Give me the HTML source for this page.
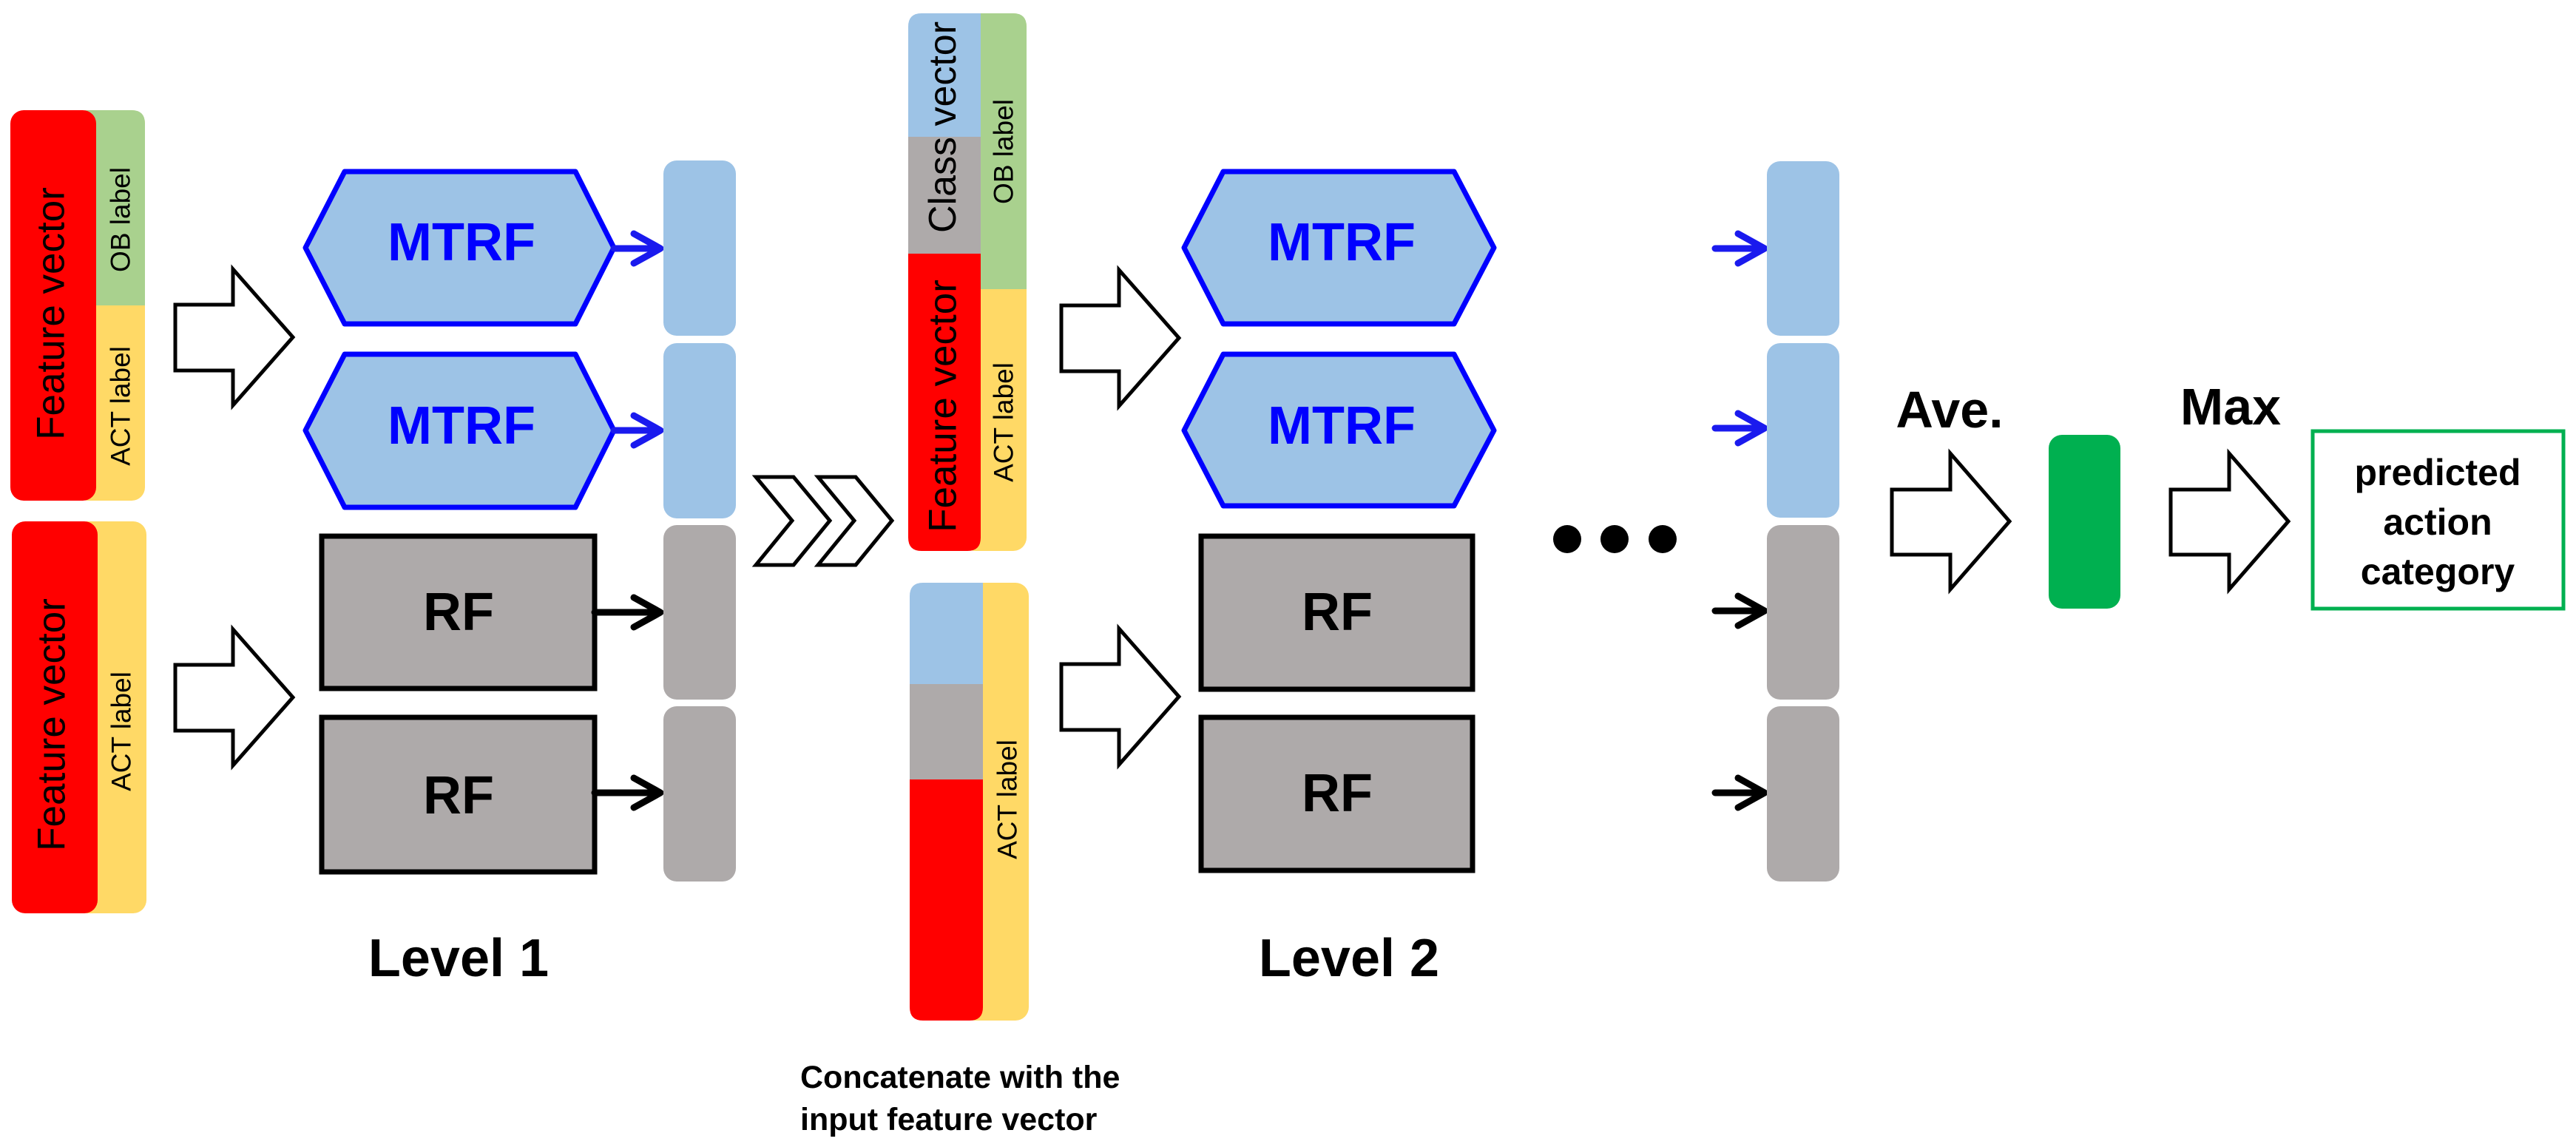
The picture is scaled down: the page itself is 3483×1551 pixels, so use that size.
<!DOCTYPE html>
<html><head><meta charset="utf-8"><style>
html,body{margin:0;padding:0;background:#fff;}
svg{display:block;}
text{font-family:"Liberation Sans",Arial,sans-serif;}
</style></head><body>
<svg width="3483" height="1551" viewBox="0 0 3483 1551" xmlns="http://www.w3.org/2000/svg">
<defs>
<g id="bigarrow"><polygon points="0,48 78,48 78,0 159,92 78,184 78,137 0,137" fill="#fff" stroke="#000" stroke-width="5"/></g>
</defs>

<!-- Input block 1 -->
<rect x="100" y="149" width="96" height="528" rx="18" fill="#ffd966"/>
<path d="M118,149 H178 Q196,149 196,167 V413 H100 V167 Q100,149 118,149 Z" fill="#a9d18e"/>
<rect x="14" y="149" width="116" height="528" rx="18" fill="#ff0000"/>
<text transform="translate(69,424) rotate(-90)" font-size="53" text-anchor="middle" dominant-baseline="central" fill="#000">Feature vector</text>
<text transform="translate(163,297) rotate(-90)" font-size="37" text-anchor="middle" dominant-baseline="central" fill="#000">OB label</text>
<text transform="translate(163,549) rotate(-90)" font-size="37" text-anchor="middle" dominant-baseline="central" fill="#000">ACT label</text>

<!-- Input block 2 -->
<rect x="100" y="705" width="98" height="530" rx="18" fill="#ffd966"/>
<rect x="16" y="705" width="116" height="530" rx="18" fill="#ff0000"/>
<text transform="translate(70,980) rotate(-90)" font-size="53" text-anchor="middle" dominant-baseline="central" fill="#000">Feature vector</text>
<text transform="translate(164,989) rotate(-90)" font-size="37" text-anchor="middle" dominant-baseline="central" fill="#000">ACT label</text>

<use href="#bigarrow" transform="translate(237,364)"/>
<use href="#bigarrow" transform="translate(237,851)"/>

<polygon points="466,232 778,232 830,335 778,438 466,438 413,335" fill="#9dc3e6" stroke="#0000ff" stroke-width="7" stroke-linejoin="round"/>
<polygon points="466,479 778,479 830,582 778,686 466,686 413,582" fill="#9dc3e6" stroke="#0000ff" stroke-width="7" stroke-linejoin="round"/>
<text x="624" y="352" font-size="72" font-weight="bold" fill="#0000ff" text-anchor="middle">MTRF</text>
<text x="624" y="600" font-size="72" font-weight="bold" fill="#0000ff" text-anchor="middle">MTRF</text>
<rect x="435" y="725" width="369" height="206" fill="#aeaaaa" stroke="#000" stroke-width="7"/>
<rect x="435" y="970" width="369" height="209" fill="#aeaaaa" stroke="#000" stroke-width="7"/>
<text x="620" y="852" font-size="72" font-weight="bold" fill="#000" text-anchor="middle">RF</text>
<text x="620" y="1100" font-size="72" font-weight="bold" fill="#000" text-anchor="middle">RF</text>

<g fill="none" stroke-width="9" stroke-linecap="round" stroke-linejoin="round">
<path d="M830,336 H893 M857,316 L893,336 L857,356" stroke="#1a1aee"/>
<path d="M830,582 H893 M857,562 L893,582 L857,602" stroke="#1a1aee"/>
<path d="M804,828 H893 M857,808 L893,828 L857,848" stroke="#000"/>
<path d="M804,1072 H893 M857,1052 L893,1072 L857,1092" stroke="#000"/>
</g>
<rect x="897" y="217" width="98" height="237" rx="18" fill="#9dc3e6"/>
<rect x="897" y="464" width="98" height="237" rx="18" fill="#9dc3e6"/>
<rect x="897" y="710" width="98" height="236" rx="18" fill="#aeaaaa"/>
<rect x="897" y="955" width="98" height="237" rx="18" fill="#aeaaaa"/>
<text x="620" y="1320" font-size="72" font-weight="bold" fill="#000" text-anchor="middle">Level 1</text>

<polygon points="1022,645 1073,645 1122,704 1073,764 1022,764 1071,704" fill="#fff" stroke="#000" stroke-width="5"/>
<polygon points="1106,645 1157,645 1206,704 1157,764 1106,764 1155,704" fill="#fff" stroke="#000" stroke-width="5"/>

<rect x="1300" y="18" width="88" height="727" rx="18" fill="#ffd966"/>
<path d="M1318,18 H1370 Q1388,18 1388,36 V391 H1300 V36 Q1300,18 1318,18 Z" fill="#a9d18e"/>
<path d="M1246,18 H1326 V185 H1228 V36 Q1228,18 1246,18 Z" fill="#9dc3e6"/>
<rect x="1228" y="185" width="98" height="158" fill="#aeaaaa"/>
<path d="M1228,343 H1326 V727 Q1326,745 1308,745 H1246 Q1228,745 1228,727 Z" fill="#ff0000"/>
<text transform="translate(1275,172) rotate(-90)" font-size="52" text-anchor="middle" dominant-baseline="central" fill="#000">Class vector</text>
<text transform="translate(1275,549) rotate(-90)" font-size="53" text-anchor="middle" dominant-baseline="central" fill="#000">Feature vector</text>
<text transform="translate(1357,205) rotate(-90)" font-size="37" text-anchor="middle" dominant-baseline="central" fill="#000">OB label</text>
<text transform="translate(1357,571) rotate(-90)" font-size="37" text-anchor="middle" dominant-baseline="central" fill="#000">ACT label</text>

<rect x="1300" y="788" width="91" height="592" rx="18" fill="#ffd966"/>
<path d="M1248,788 H1329 V925 H1230 V806 Q1230,788 1248,788 Z" fill="#9dc3e6"/>
<rect x="1230" y="925" width="99" height="129" fill="#aeaaaa"/>
<path d="M1230,1054 H1329 V1362 Q1329,1380 1311,1380 H1248 Q1230,1380 1230,1362 Z" fill="#ff0000"/>
<text transform="translate(1362,1081) rotate(-90)" font-size="37" text-anchor="middle" dominant-baseline="central" fill="#000">ACT label</text>

<text x="1082" y="1471" font-size="43" font-weight="bold" fill="#000">Concatenate with the</text>
<text x="1082" y="1528" font-size="43" font-weight="bold" fill="#000">input feature vector</text>

<use href="#bigarrow" transform="translate(1435,365)"/>
<use href="#bigarrow" transform="translate(1435,850)"/>

<polygon points="1654,232 1966,232 2020,335 1966,438 1654,438 1601,335" fill="#9dc3e6" stroke="#0000ff" stroke-width="7" stroke-linejoin="round"/>
<polygon points="1654,479 1966,479 2020,582 1966,684 1654,684 1601,582" fill="#9dc3e6" stroke="#0000ff" stroke-width="7" stroke-linejoin="round"/>
<text x="1814" y="352" font-size="72" font-weight="bold" fill="#0000ff" text-anchor="middle">MTRF</text>
<text x="1814" y="600" font-size="72" font-weight="bold" fill="#0000ff" text-anchor="middle">MTRF</text>
<rect x="1624" y="725" width="367" height="207" fill="#aeaaaa" stroke="#000" stroke-width="7"/>
<rect x="1624" y="970" width="367" height="207" fill="#aeaaaa" stroke="#000" stroke-width="7"/>
<text x="1808" y="852" font-size="72" font-weight="bold" fill="#000" text-anchor="middle">RF</text>
<text x="1808" y="1097" font-size="72" font-weight="bold" fill="#000" text-anchor="middle">RF</text>
<text x="1824" y="1320" font-size="72" font-weight="bold" fill="#000" text-anchor="middle">Level 2</text>

<circle cx="2119" cy="729" r="19" fill="#000"/>
<circle cx="2183" cy="729" r="19" fill="#000"/>
<circle cx="2248" cy="729" r="19" fill="#000"/>

<g fill="none" stroke-width="9" stroke-linecap="round" stroke-linejoin="round">
<path d="M2319,336 H2386 M2350,316 L2386,336 L2350,356" stroke="#1a1aee"/>
<path d="M2319,579 H2386 M2350,559 L2386,579 L2350,599" stroke="#1a1aee"/>
<path d="M2319,826 H2386 M2350,806 L2386,826 L2350,846" stroke="#000"/>
<path d="M2319,1072 H2386 M2350,1052 L2386,1072 L2350,1092" stroke="#000"/>
</g>
<rect x="2389" y="218" width="98" height="236" rx="18" fill="#9dc3e6"/>
<rect x="2389" y="464" width="98" height="236" rx="18" fill="#9dc3e6"/>
<rect x="2389" y="710" width="98" height="236" rx="18" fill="#aeaaaa"/>
<rect x="2389" y="955" width="98" height="237" rx="18" fill="#aeaaaa"/>

<text x="2636" y="578" font-size="70" font-weight="bold" fill="#000" text-anchor="middle">Ave.</text>
<polygon points="2558,662 2637,662 2637,613 2717,705 2637,797 2637,750 2558,750" fill="#fff" stroke="#000" stroke-width="5"/>
<rect x="2770" y="588" width="97" height="235" rx="18" fill="#00b050"/>
<text x="3016" y="574" font-size="70" font-weight="bold" fill="#000" text-anchor="middle">Max</text>
<polygon points="2935,662 3014,662 3014,613 3094,705 3014,797 3014,750 2935,750" fill="#fff" stroke="#000" stroke-width="5"/>
<rect x="3127" y="583" width="339" height="240" fill="#fff" stroke="#00b050" stroke-width="5"/>
<text x="3296" y="656" font-size="50" font-weight="bold" fill="#000" text-anchor="middle">predicted</text>
<text x="3296" y="723" font-size="50" font-weight="bold" fill="#000" text-anchor="middle">action</text>
<text x="3296" y="790" font-size="50" font-weight="bold" fill="#000" text-anchor="middle">category</text>
</svg>
</body></html>
